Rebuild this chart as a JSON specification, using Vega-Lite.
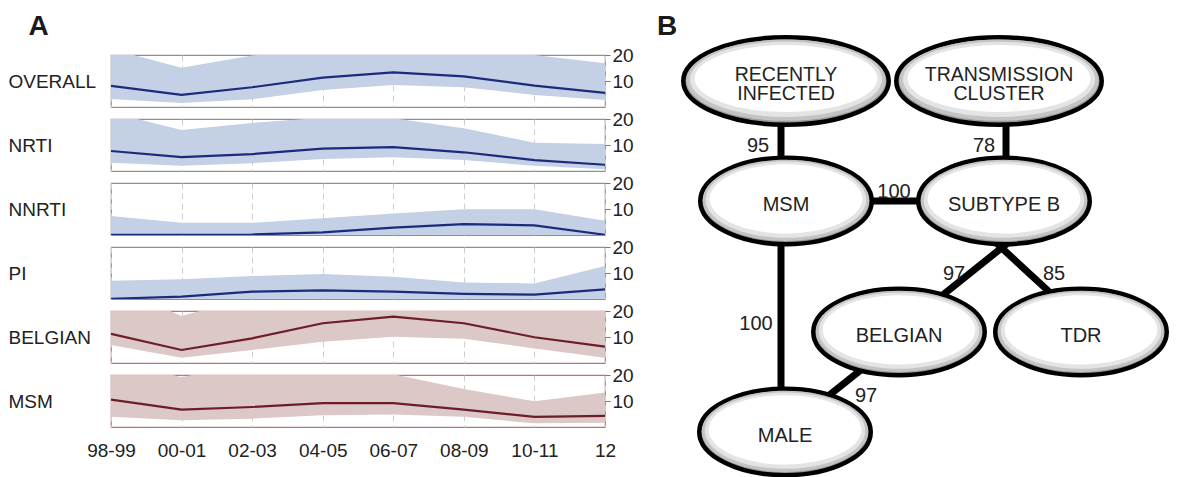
{
  "$schema": "https://vega.github.io/schema/vega-lite/v6.json",
  "background": "white",
  "padding": {"left": 7, "top": 13, "right": 0, "bottom": 0},
  "config": {
    "font": "Liberation Sans",
    "view": {"stroke": null},
    "axisX": {"title": null, "grid": true, "gridDash": [6, 4], "gridColor": "#cfcfcf", "gridWidth": 1, "ticks": false, "domain": false, "labelAngle": 0, "labelFontSize": 19, "labelColor": "#222", "labelPadding": 14}
  },
  "spacing": 10,
  "datasets": {
    "series": [
      {"p": "OVERALL", "t": "98-99", "m": 8.1, "lo": 3.1, "hi": 22.3},
      {"p": "OVERALL", "t": "00-01", "m": 4.7, "lo": 1.5, "hi": 15.1},
      {"p": "OVERALL", "t": "02-03", "m": 7.6, "lo": 3.0, "hi": 19.8},
      {"p": "OVERALL", "t": "04-05", "m": 11.3, "lo": 6.5, "hi": 22},
      {"p": "OVERALL", "t": "06-07", "m": 13.3, "lo": 8.5, "hi": 23},
      {"p": "OVERALL", "t": "08-09", "m": 11.8, "lo": 7.6, "hi": 21.5},
      {"p": "OVERALL", "t": "10-11", "m": 8.2, "lo": 4.6, "hi": 20},
      {"p": "OVERALL", "t": "12", "m": 5.4, "lo": 2.7, "hi": 16.8},
      {"p": "NRTI", "t": "98-99", "m": 7.7, "lo": 3.2, "hi": 22.5},
      {"p": "NRTI", "t": "00-01", "m": 5.3, "lo": 2.0, "hi": 15.8},
      {"p": "NRTI", "t": "02-03", "m": 6.5, "lo": 3.0, "hi": 18.5},
      {"p": "NRTI", "t": "04-05", "m": 8.6, "lo": 4.6, "hi": 20.5},
      {"p": "NRTI", "t": "06-07", "m": 9.2, "lo": 5.3, "hi": 20.3},
      {"p": "NRTI", "t": "08-09", "m": 7.2, "lo": 4.2, "hi": 16.4},
      {"p": "NRTI", "t": "10-11", "m": 4.2, "lo": 2.0, "hi": 10.9},
      {"p": "NRTI", "t": "12", "m": 2.4, "lo": 0.7, "hi": 10.4},
      {"p": "NNRTI", "t": "98-99", "m": 0.1, "lo": 0, "hi": 7.3},
      {"p": "NNRTI", "t": "00-01", "m": 0.1, "lo": 0, "hi": 4.7},
      {"p": "NNRTI", "t": "02-03", "m": 0.2, "lo": 0, "hi": 4.7},
      {"p": "NNRTI", "t": "04-05", "m": 1.0, "lo": 0, "hi": 6.4},
      {"p": "NNRTI", "t": "06-07", "m": 2.8, "lo": 0, "hi": 8.3},
      {"p": "NNRTI", "t": "08-09", "m": 4.2, "lo": 0, "hi": 9.9},
      {"p": "NNRTI", "t": "10-11", "m": 3.7, "lo": 0, "hi": 9.9},
      {"p": "NNRTI", "t": "12", "m": 0.1, "lo": 0, "hi": 5.5},
      {"p": "PI", "t": "98-99", "m": 0.1, "lo": 0, "hi": 7.0},
      {"p": "PI", "t": "00-01", "m": 0.9, "lo": 0, "hi": 7.6},
      {"p": "PI", "t": "02-03", "m": 2.8, "lo": 0, "hi": 8.8},
      {"p": "PI", "t": "04-05", "m": 3.3, "lo": 0, "hi": 9.6},
      {"p": "PI", "t": "06-07", "m": 2.8, "lo": 0, "hi": 8.6},
      {"p": "PI", "t": "08-09", "m": 2.0, "lo": 0, "hi": 6.3},
      {"p": "PI", "t": "10-11", "m": 1.7, "lo": 0, "hi": 6.0},
      {"p": "PI", "t": "12", "m": 3.7, "lo": 0, "hi": 12.7},
      {"p": "BELGIAN", "t": "98-99", "m": 11.2, "lo": 6.9, "hi": 30},
      {"p": "BELGIAN", "t": "00-01", "m": 5.0, "lo": 2.0, "hi": 18.1},
      {"p": "BELGIAN", "t": "02-03", "m": 9.5, "lo": 5.0, "hi": 25.5},
      {"p": "BELGIAN", "t": "04-05", "m": 15.3, "lo": 8.2, "hi": 26},
      {"p": "BELGIAN", "t": "06-07", "m": 17.8, "lo": 10.1, "hi": 28},
      {"p": "BELGIAN", "t": "08-09", "m": 15.3, "lo": 9.3, "hi": 26},
      {"p": "BELGIAN", "t": "10-11", "m": 9.9, "lo": 5.6, "hi": 23},
      {"p": "BELGIAN", "t": "12", "m": 6.3, "lo": 2.0, "hi": 22},
      {"p": "MSM", "t": "98-99", "m": 10.5, "lo": 3.9, "hi": 26.6},
      {"p": "MSM", "t": "00-01", "m": 6.7, "lo": 2.6, "hi": 19.1},
      {"p": "MSM", "t": "02-03", "m": 7.7, "lo": 3.2, "hi": 25.3},
      {"p": "MSM", "t": "04-05", "m": 9.2, "lo": 4.5, "hi": 24},
      {"p": "MSM", "t": "06-07", "m": 9.2, "lo": 4.8, "hi": 20.3},
      {"p": "MSM", "t": "08-09", "m": 6.7, "lo": 3.9, "hi": 14.6},
      {"p": "MSM", "t": "10-11", "m": 3.9, "lo": 1.4, "hi": 9.9},
      {"p": "MSM", "t": "12", "m": 4.3, "lo": 1.6, "hi": 13.3}
    ],
    "nodes": [
      {"label": "RECENTLY\nINFECTED", "k": "wide", "x": 782, "y": 81},
      {"label": "TRANSMISSION\nCLUSTER", "k": "wide", "x": 995, "y": 81},
      {"label": "MSM", "k": "normal", "x": 782, "y": 201},
      {"label": "SUBTYPE B", "k": "normal", "x": 1000, "y": 201},
      {"label": "BELGIAN", "k": "normal", "x": 895, "y": 332},
      {"label": "TDR", "k": "normal", "x": 1077, "y": 332},
      {"label": "MALE", "k": "normal", "x": 781, "y": 432}
    ],
    "edges": [
      {"w": "95", "x1": 777, "y1": 110, "x2": 777, "y2": 175, "lx": 754, "ly": 142},
      {"w": "78", "x1": 1002, "y1": 110, "x2": 1002, "y2": 175, "lx": 980, "ly": 142},
      {"w": "100", "x1": 840, "y1": 201, "x2": 950, "y2": 201, "lx": 890, "ly": 188},
      {"w": "97", "x1": 1010, "y1": 238, "x2": 930, "y2": 302, "lx": 950, "ly": 270},
      {"w": "85", "x1": 988, "y1": 239, "x2": 1053, "y2": 299, "lx": 1050, "ly": 270},
      {"w": "100", "x1": 777, "y1": 230, "x2": 777, "y2": 405, "lx": 752, "ly": 320},
      {"w": "97", "x1": 863, "y1": 365, "x2": 818, "y2": 401, "lx": 862, "ly": 392}
    ]
  },
  "hconcat": [
    {
      "title": {"text": "A", "anchor": "start", "frame": "bounds", "fontSize": 28, "fontWeight": "bold", "color": "#1a1a1a", "dx": 21, "offset": 4},
      "data": {"name": "series"},
      "bounds": "flush",
      "spacing": 12,
      "vconcat": [
        {
          "width": 494, "height": 52,
          "view": {"stroke": "#8f8f8f", "strokeWidth": 1.2},
          "transform": [{"filter": "datum.p === 'OVERALL'"}],
          "encoding": {"x": {"field": "t", "type": "ordinal", "sort": ["98-99", "00-01", "02-03", "04-05", "06-07", "08-09", "10-11", "12"], "scale": {"type": "point", "padding": 0}, "axis": {"labels": false}}},
          "layer": [
            {"mark": {"type": "area", "clip": true, "color": "#c4d0e5", "opacity": 1},
             "encoding": {"y": {"field": "lo", "type": "quantitative", "scale": {"domain": [0, 20], "nice": false},
               "axis": {"orient": "left", "title": "OVERALL", "labels": false, "ticks": false, "domain": false, "grid": false, "titleAngle": 0, "titleAlign": "left", "titleBaseline": "middle", "titleX": -103, "titleY": 26, "titleFontSize": 19, "titleFontWeight": "normal", "titleColor": "#222"}},
               "y2": {"field": "hi"}}},
            {"mark": {"type": "line", "clip": true, "color": "#1c2a7c", "strokeWidth": 2.2},
             "encoding": {"y": {"field": "m", "type": "quantitative",
               "axis": {"orient": "right", "values": [10, 20], "title": null, "grid": false, "domain": false, "tickSize": 5, "tickColor": "#777", "labelFontSize": 19, "labelColor": "#222", "labelPadding": 2}}}}
          ],
          "resolve": {"axis": {"y": "independent"}}
        },
        {
          "width": 494, "height": 52,
          "view": {"stroke": "#8f8f8f", "strokeWidth": 1.2},
          "transform": [{"filter": "datum.p === 'NRTI'"}],
          "encoding": {"x": {"field": "t", "type": "ordinal", "sort": ["98-99", "00-01", "02-03", "04-05", "06-07", "08-09", "10-11", "12"], "scale": {"type": "point", "padding": 0}, "axis": {"labels": false}}},
          "layer": [
            {"mark": {"type": "area", "clip": true, "color": "#c4d0e5", "opacity": 1},
             "encoding": {"y": {"field": "lo", "type": "quantitative", "scale": {"domain": [0, 20], "nice": false},
               "axis": {"orient": "left", "title": "NRTI", "labels": false, "ticks": false, "domain": false, "grid": false, "titleAngle": 0, "titleAlign": "left", "titleBaseline": "middle", "titleX": -103, "titleY": 26, "titleFontSize": 19, "titleFontWeight": "normal", "titleColor": "#222"}},
               "y2": {"field": "hi"}}},
            {"mark": {"type": "line", "clip": true, "color": "#1c2a7c", "strokeWidth": 2.2},
             "encoding": {"y": {"field": "m", "type": "quantitative",
               "axis": {"orient": "right", "values": [10, 20], "title": null, "grid": false, "domain": false, "tickSize": 5, "tickColor": "#777", "labelFontSize": 19, "labelColor": "#222", "labelPadding": 2}}}}
          ],
          "resolve": {"axis": {"y": "independent"}}
        },
        {
          "width": 494, "height": 52,
          "view": {"stroke": "#8f8f8f", "strokeWidth": 1.2},
          "transform": [{"filter": "datum.p === 'NNRTI'"}],
          "encoding": {"x": {"field": "t", "type": "ordinal", "sort": ["98-99", "00-01", "02-03", "04-05", "06-07", "08-09", "10-11", "12"], "scale": {"type": "point", "padding": 0}, "axis": {"labels": false}}},
          "layer": [
            {"mark": {"type": "area", "clip": true, "color": "#c4d0e5", "opacity": 1},
             "encoding": {"y": {"field": "lo", "type": "quantitative", "scale": {"domain": [0, 20], "nice": false},
               "axis": {"orient": "left", "title": "NNRTI", "labels": false, "ticks": false, "domain": false, "grid": false, "titleAngle": 0, "titleAlign": "left", "titleBaseline": "middle", "titleX": -103, "titleY": 26, "titleFontSize": 19, "titleFontWeight": "normal", "titleColor": "#222"}},
               "y2": {"field": "hi"}}},
            {"mark": {"type": "line", "clip": true, "color": "#1c2a7c", "strokeWidth": 2.2},
             "encoding": {"y": {"field": "m", "type": "quantitative",
               "axis": {"orient": "right", "values": [10, 20], "title": null, "grid": false, "domain": false, "tickSize": 5, "tickColor": "#777", "labelFontSize": 19, "labelColor": "#222", "labelPadding": 2}}}}
          ],
          "resolve": {"axis": {"y": "independent"}}
        },
        {
          "width": 494, "height": 52,
          "view": {"stroke": "#8f8f8f", "strokeWidth": 1.2},
          "transform": [{"filter": "datum.p === 'PI'"}],
          "encoding": {"x": {"field": "t", "type": "ordinal", "sort": ["98-99", "00-01", "02-03", "04-05", "06-07", "08-09", "10-11", "12"], "scale": {"type": "point", "padding": 0}, "axis": {"labels": false}}},
          "layer": [
            {"mark": {"type": "area", "clip": true, "color": "#c4d0e5", "opacity": 1},
             "encoding": {"y": {"field": "lo", "type": "quantitative", "scale": {"domain": [0, 20], "nice": false},
               "axis": {"orient": "left", "title": "PI", "labels": false, "ticks": false, "domain": false, "grid": false, "titleAngle": 0, "titleAlign": "left", "titleBaseline": "middle", "titleX": -103, "titleY": 26, "titleFontSize": 19, "titleFontWeight": "normal", "titleColor": "#222"}},
               "y2": {"field": "hi"}}},
            {"mark": {"type": "line", "clip": true, "color": "#1c2a7c", "strokeWidth": 2.2},
             "encoding": {"y": {"field": "m", "type": "quantitative",
               "axis": {"orient": "right", "values": [10, 20], "title": null, "grid": false, "domain": false, "tickSize": 5, "tickColor": "#777", "labelFontSize": 19, "labelColor": "#222", "labelPadding": 2}}}}
          ],
          "resolve": {"axis": {"y": "independent"}}
        },
        {
          "width": 494, "height": 52,
          "view": {"stroke": "#b07a7a", "strokeWidth": 1.2},
          "transform": [{"filter": "datum.p === 'BELGIAN'"}],
          "encoding": {"x": {"field": "t", "type": "ordinal", "sort": ["98-99", "00-01", "02-03", "04-05", "06-07", "08-09", "10-11", "12"], "scale": {"type": "point", "padding": 0}, "axis": {"labels": false}}},
          "layer": [
            {"mark": {"type": "area", "clip": true, "color": "#dbc8c7", "opacity": 1},
             "encoding": {"y": {"field": "lo", "type": "quantitative", "scale": {"domain": [0, 20], "nice": false},
               "axis": {"orient": "left", "title": "BELGIAN", "labels": false, "ticks": false, "domain": false, "grid": false, "titleAngle": 0, "titleAlign": "left", "titleBaseline": "middle", "titleX": -103, "titleY": 26, "titleFontSize": 19, "titleFontWeight": "normal", "titleColor": "#222"}},
               "y2": {"field": "hi"}}},
            {"mark": {"type": "line", "clip": true, "color": "#6d1d28", "strokeWidth": 2.2},
             "encoding": {"y": {"field": "m", "type": "quantitative",
               "axis": {"orient": "right", "values": [10, 20], "title": null, "grid": false, "domain": false, "tickSize": 5, "tickColor": "#777", "labelFontSize": 19, "labelColor": "#222", "labelPadding": 2}}}}
          ],
          "resolve": {"axis": {"y": "independent"}}
        },
        {
          "width": 494, "height": 52,
          "view": {"stroke": "#b07a7a", "strokeWidth": 1.2},
          "transform": [{"filter": "datum.p === 'MSM'"}],
          "encoding": {"x": {"field": "t", "type": "ordinal", "sort": ["98-99", "00-01", "02-03", "04-05", "06-07", "08-09", "10-11", "12"], "scale": {"type": "point", "padding": 0}}},
          "layer": [
            {"mark": {"type": "area", "clip": true, "color": "#dbc8c7", "opacity": 1},
             "encoding": {"y": {"field": "lo", "type": "quantitative", "scale": {"domain": [0, 20], "nice": false},
               "axis": {"orient": "left", "title": "MSM", "labels": false, "ticks": false, "domain": false, "grid": false, "titleAngle": 0, "titleAlign": "left", "titleBaseline": "middle", "titleX": -103, "titleY": 26, "titleFontSize": 19, "titleFontWeight": "normal", "titleColor": "#222"}},
               "y2": {"field": "hi"}}},
            {"mark": {"type": "line", "clip": true, "color": "#6d1d28", "strokeWidth": 2.2},
             "encoding": {"y": {"field": "m", "type": "quantitative",
               "axis": {"orient": "right", "values": [10, 20], "title": null, "grid": false, "domain": false, "tickSize": 5, "tickColor": "#777", "labelFontSize": 19, "labelColor": "#222", "labelPadding": 2}}}}
          ],
          "resolve": {"axis": {"y": "independent"}}
        }
      ]
    },
    {
      "title": {"text": "B", "anchor": "start", "frame": "bounds", "fontSize": 28, "fontWeight": "bold", "color": "#1a1a1a", "dx": 13, "offset": -13},
      "width": 540,
      "height": 422,
      "layer": [
        {
          "data": {"name": "edges"},
          "mark": {"type": "rule", "strokeWidth": 7, "color": "#000"},
          "encoding": {
            "x": {"field": "x1", "type": "quantitative", "scale": {"domain": [640, 1180], "nice": false, "zero": false}, "axis": null},
            "y": {"field": "y1", "type": "quantitative", "scale": {"domain": [55, 477], "nice": false, "zero": false, "reverse": true}, "axis": null},
            "x2": {"field": "x2"},
            "y2": {"field": "y2"}
          }
        },
        {
          "data": {"name": "nodes"},
          "mark": {"type": "point", "filled": true, "fill": "#9a9a9a", "stroke": "#000", "strokeWidth": 4.5, "opacity": 1},
          "encoding": {
            "x": {"field": "x", "type": "quantitative", "axis": null},
            "y": {"field": "y", "type": "quantitative", "axis": null},
            "shape": {"field": "k", "type": "nominal", "legend": null, "scale": {"domain": ["wide", "normal"], "range": [
              "M -1 0 C -1 -0.235 -0.552 -0.426 0 -0.426 C 0.552 -0.426 1 -0.235 1 0 C 1 0.235 0.552 0.426 0 0.426 C -0.552 0.426 -1 0.235 -1 0 Z",
              "M -1 0 C -1 -0.278 -0.552 -0.504 0 -0.504 C 0.552 -0.504 1 -0.278 1 0 C 1 0.278 0.552 0.504 0 0.504 C -0.552 0.504 -1 0.278 -1 0 Z"]}},
            "size": {"field": "k", "type": "ordinal", "legend": null, "scale": {"domain": ["wide", "normal"], "range": [42230, 29412]}}
          }
        },
        {
          "data": {"name": "nodes"},
          "mark": {"type": "point", "filled": true, "fill": "#c4c4c4", "strokeWidth": 0, "opacity": 1},
          "encoding": {
            "x": {"field": "x", "type": "quantitative", "axis": null},
            "y": {"field": "y", "type": "quantitative", "axis": null},
            "shape": {"field": "k", "type": "nominal", "legend": null, "scale": {"domain": ["wide", "normal"], "range": [
              "M -0.97 -0.008 C -0.97 -0.227 -0.536 -0.404 0 -0.404 C 0.536 -0.404 0.97 -0.227 0.97 -0.008 C 0.97 0.211 0.536 0.388 0 0.388 C -0.536 0.388 -0.97 0.211 -0.97 -0.008 Z",
              "M -0.97 -0.008 C -0.97 -0.27 -0.536 -0.482 0 -0.482 C 0.536 -0.482 0.97 -0.27 0.97 -0.008 C 0.97 0.254 0.536 0.466 0 0.466 C -0.536 0.466 -0.97 0.254 -0.97 -0.008 Z"]}},
            "size": {"field": "k", "type": "ordinal", "legend": null}
          }
        },
        {
          "data": {"name": "nodes"},
          "mark": {"type": "point", "filled": true, "fill": "#e4e4e4", "strokeWidth": 0, "opacity": 1},
          "encoding": {
            "x": {"field": "x", "type": "quantitative", "axis": null},
            "y": {"field": "y", "type": "quantitative", "axis": null},
            "shape": {"field": "k", "type": "nominal", "legend": null, "scale": {"domain": ["wide", "normal"], "range": [
              "M -0.935 -0.016 C -0.935 -0.218 -0.516 -0.382 0 -0.382 C 0.516 -0.382 0.935 -0.218 0.935 -0.016 C 0.935 0.186 0.516 0.35 0 0.35 C -0.516 0.35 -0.935 0.186 -0.935 -0.016 Z",
              "M -0.935 -0.016 C -0.935 -0.261 -0.516 -0.46 0 -0.46 C 0.516 -0.46 0.935 -0.261 0.935 -0.016 C 0.935 0.229 0.516 0.428 0 0.428 C -0.516 0.428 -0.935 0.229 -0.935 -0.016 Z"]}},
            "size": {"field": "k", "type": "ordinal", "legend": null}
          }
        },
        {
          "data": {"name": "nodes"},
          "mark": {"type": "point", "filled": true, "fill": "#ffffff", "strokeWidth": 0, "opacity": 1},
          "encoding": {
            "x": {"field": "x", "type": "quantitative", "axis": null},
            "y": {"field": "y", "type": "quantitative", "axis": null},
            "shape": {"field": "k", "type": "nominal", "legend": null, "scale": {"domain": ["wide", "normal"], "range": [
              "M -0.89 -0.025 C -0.89 -0.205 -0.492 -0.351 0 -0.351 C 0.492 -0.351 0.89 -0.205 0.89 -0.025 C 0.89 0.155 0.492 0.301 0 0.301 C -0.492 0.301 -0.89 0.155 -0.89 -0.025 Z",
              "M -0.89 -0.025 C -0.89 -0.248 -0.492 -0.429 0 -0.429 C 0.492 -0.429 0.89 -0.248 0.89 -0.025 C 0.89 0.198 0.492 0.379 0 0.379 C -0.492 0.379 -0.89 0.198 -0.89 -0.025 Z"]}},
            "size": {"field": "k", "type": "ordinal", "legend": null}
          }
        },
        {
          "data": {"name": "nodes"},
          "transform": [{"filter": "datum.k === 'wide'"}],
          "mark": {"type": "text", "fontSize": 19.5, "lineHeight": 19.5, "lineBreak": "\n", "baseline": "middle", "align": "center", "dy": -6.25, "color": "#222"},
          "encoding": {
            "x": {"field": "x", "type": "quantitative", "axis": null},
            "y": {"field": "y", "type": "quantitative", "axis": null},
            "text": {"field": "label", "type": "nominal"}
          }
        },
        {
          "data": {"name": "nodes"},
          "transform": [{"filter": "datum.k === 'normal'"}],
          "mark": {"type": "text", "fontSize": 20, "baseline": "middle", "align": "center", "dy": 3.5, "color": "#222"},
          "encoding": {
            "x": {"field": "x", "type": "quantitative", "axis": null},
            "y": {"field": "y", "type": "quantitative", "axis": null},
            "text": {"field": "label", "type": "nominal"}
          }
        },
        {
          "data": {"name": "edges"},
          "mark": {"type": "text", "fontSize": 20, "baseline": "middle", "align": "center", "dy": 3.5, "color": "#222"},
          "encoding": {
            "x": {"field": "lx", "type": "quantitative", "axis": null},
            "y": {"field": "ly", "type": "quantitative", "axis": null},
            "text": {"field": "w", "type": "nominal"}
          }
        }
      ],
      "resolve": {"scale": {"shape": "independent"}}
    }
  ]
}
